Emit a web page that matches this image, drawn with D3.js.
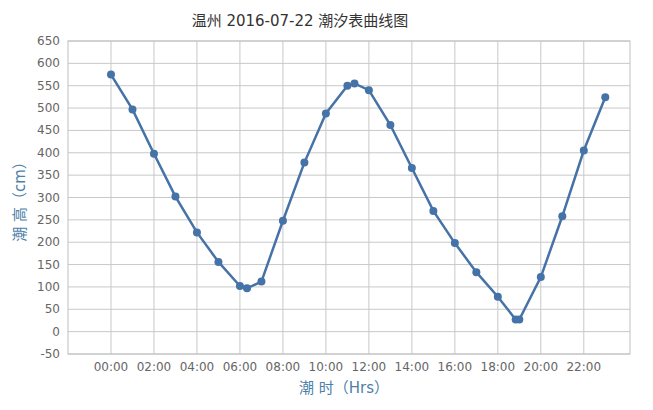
<!DOCTYPE html>
<html lang="en">
  <head>
    <meta charset="UTF-8" />
    <script src="https://d3js.org/d3.v7.min.js"></script>
    <style>
      body { margin: 0; background: #fff; }
      text { font-family: "DejaVu Sans", "Noto Sans CJK SC", sans-serif; }
    </style>
  </head>
  <body>
    <svg id="chart" width="653" height="410"></svg>
    <script>
      // tide times in hours, and tide heights (cm)
      const hours = [0, 1, 2, 3, 4, 5, 6, 6.33, 7, 8, 9, 10, 11, 11.33, 12, 13, 14, 15, 16, 17, 18, 18.83, 19, 20, 21, 22, 23];
      const heights = [575, 497, 398, 302, 222, 156, 102, 97, 112, 248, 378, 488, 550, 555, 540, 462, 366, 270, 198, 133, 78, 27, 27, 122, 258, 405, 524];
      const xTicks = [0, 2, 4, 6, 8, 10, 12, 14, 16, 18, 20, 22];
      const yTicks = d3.range(-50, 651, 50);

      const svg = d3.select("#chart");
      const x = d3.scaleLinear().domain([-2, 24.15]).range([68, 630]);
      const y = d3.scaleLinear().domain([-50, 650]).range([354, 41]);
      const data = hours.map((h, i) => ({ h, v: heights[i] }));

      // grid
      svg.append("g").selectAll("line").data(yTicks).enter().append("line")
        .attr("x1", x.range()[0]).attr("x2", x.range()[1])
        .attr("y1", d => y(d)).attr("y2", d => y(d))
        .attr("stroke", "#c8c8c8");
      svg.append("g").selectAll("line").data(xTicks).enter().append("line")
        .attr("y1", y.range()[0]).attr("y2", y.range()[1])
        .attr("x1", d => x(d)).attr("x2", d => x(d))
        .attr("stroke", "#c8c8c8");
      svg.append("rect").attr("x", 68).attr("y", 41).attr("width", 562).attr("height", 313)
        .attr("fill", "none").attr("stroke", "#c0c0c0");

      // axes labels
      svg.append("g").selectAll("text").data(yTicks).enter().append("text")
        .attr("x", 60).attr("y", d => y(d) + 4).attr("text-anchor", "end")
        .attr("font-size", 12).attr("fill", "#666").text(d => d);
      svg.append("g").selectAll("text").data(xTicks).enter().append("text")
        .attr("x", d => x(d)).attr("y", 371).attr("text-anchor", "middle")
        .attr("font-size", 12).attr("fill", "#666")
        .text(d => String(d).padStart(2, "0") + ":00");

      // line + points
      svg.append("path").datum(data)
        .attr("d", d3.line().x(d => x(d.h)).y(d => y(d.v)))
        .attr("fill", "none").attr("stroke", "#4572a7").attr("stroke-width", 2.5);
      svg.append("g").selectAll("circle").data(data).enter().append("circle")
        .attr("cx", d => x(d.h)).attr("cy", d => y(d.v)).attr("r", 4)
        .attr("fill", "#4572a7");

      // titles
      svg.append("text").attr("x", 300).attr("y", 26).attr("text-anchor", "middle")
        .attr("font-size", 15).attr("fill", "#333").text("温州 2016-07-22 潮汐表曲线图");
      svg.append("text").attr("x", 344).attr("y", 393).attr("text-anchor", "middle")
        .attr("font-size", 15).attr("fill", "#4d7fa8").text("潮 时（Hrs）");
      svg.append("text").attr("transform", "translate(25,198) rotate(-90)")
        .attr("text-anchor", "middle").attr("font-size", 15).attr("fill", "#4d7fa8")
        .text("潮 高（cm）");
    </script>
  </body>
</html>
